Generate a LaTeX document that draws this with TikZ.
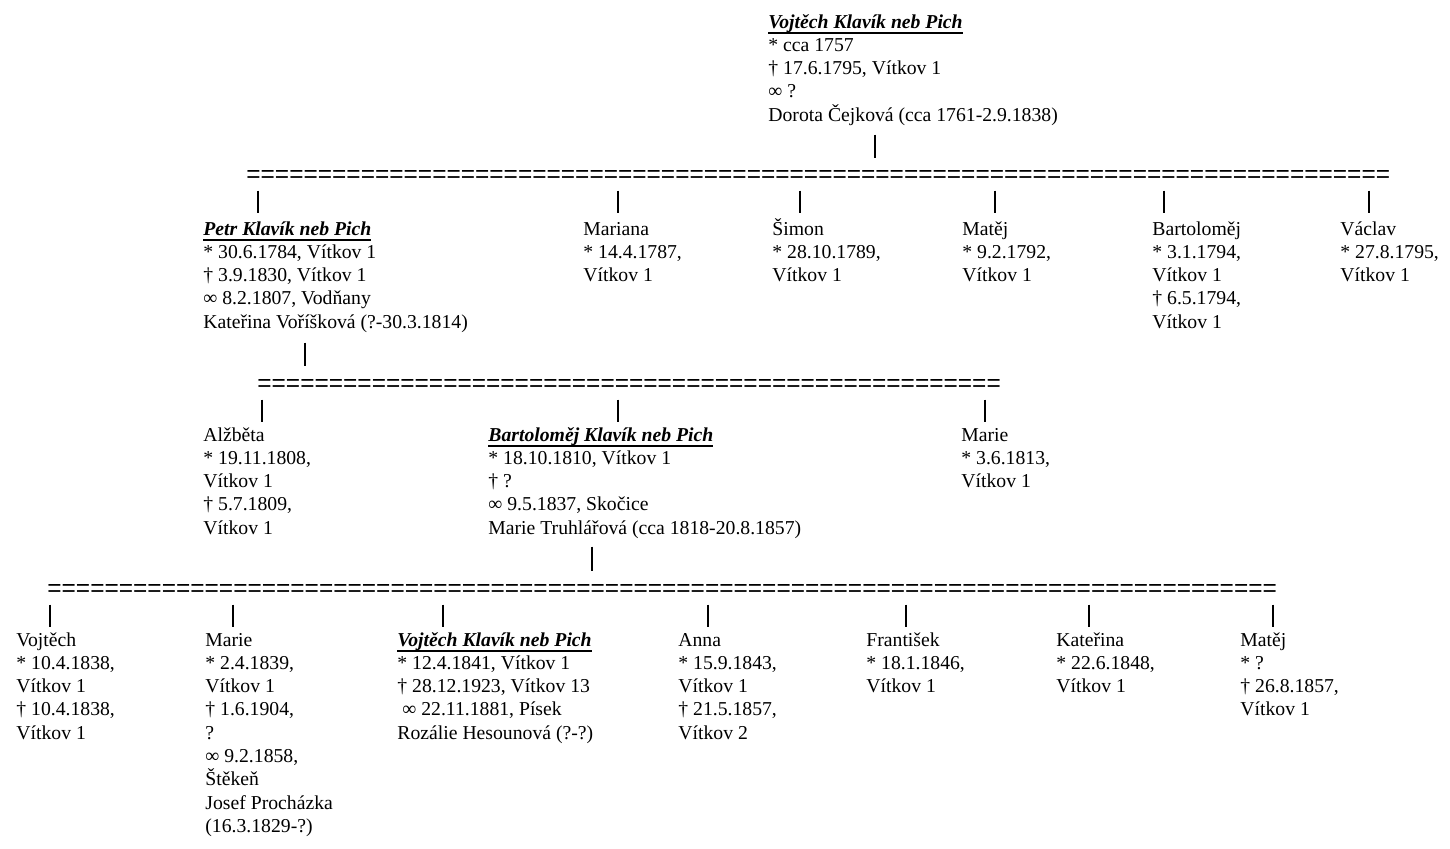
\documentclass[tikz,border=0pt]{standalone}
\usepackage{fontspec}
\setmainfont{Liberation Serif}
\newfontfamily\eqfamily{Liberation Sans}
\usetikzlibrary{calc}

\newsavebox\headbox
\newcommand\headname[1]{\sbox\headbox{\textbf{\textit{#1}}}%
  \rlap{\rule[-2.9pt]{\wd\headbox}{0.8pt}}\usebox\headbox}
\newcommand\eqrow[1]{\foreach \i in {1,...,#1}{=}}

\begin{document}
\begin{tikzpicture}[x=0.5pt,y=-0.5pt,
    person/.style={anchor=base west,align=left,inner sep=0pt,
      font=\fontsize{9.85}{11.65}\selectfont},
    sibs/.style={anchor=base west,inner sep=0pt,
      font=\eqfamily\fontsize{12.24}{14}\selectfont},
    bar/.style={line width=1pt}]
  \useasboundingbox (0,0) rectangle (1450,848);

  % generation 1 (nodes sit on the baseline of their last line)
  \node[person] (vojtech0) at (768,121.2) {\headname{Vojtěch Klavík neb Pich}\\
    * cca 1757\\ † 17.6.1795, Vítkov 1\\ ∞ ?\\ Dorota Čejková (cca 1761-2.9.1838)};
  \node[sibs] (row0) at (246,182.5) {\eqrow{80}};

  % generation 2
  \node[person] (petr) at (203,328.2) {\headname{Petr Klavík neb Pich}\\
    * 30.6.1784, Vítkov 1\\ † 3.9.1830, Vítkov 1\\ ∞ 8.2.1807, Vodňany\\
    Kateřina Voříšková (?-30.3.1814)};
  \node[person] (mariana) at (583,281.6) {Mariana\\ * 14.4.1787,\\ Vítkov 1};
  \node[person] (simon) at (772,281.6) {Šimon\\ * 28.10.1789,\\ Vítkov 1};
  \node[person] (matej) at (962,281.6) {Matěj\\ * 9.2.1792,\\ Vítkov 1};
  \node[person] (bartolomej) at (1152,328.2) {Bartoloměj\\ * 3.1.1794,\\ Vítkov 1\\
    † 6.5.1794,\\ Vítkov 1};
  \node[person] (vaclav) at (1340,281.6) {Václav\\ * 27.8.1795,\\ Vítkov 1};
  \node[sibs] (row1) at (257,391.5) {\eqrow{52}};

  % generation 3
  \node[person] (alzbeta) at (203,534.2) {Alžběta\\ * 19.11.1808,\\ Vítkov 1\\
    † 5.7.1809,\\ Vítkov 1};
  \node[person] (bartolomej2) at (488,534.2) {\headname{Bartoloměj Klavík neb Pich}\\
    * 18.10.1810, Vítkov 1\\ † ?\\ ∞ 9.5.1837, Skočice\\
    Marie Truhlářová (cca 1818-20.8.1857)};
  \node[person] (marie) at (961,487.6) {Marie\\ * 3.6.1813,\\ Vítkov 1};
  \node[sibs] (row2) at (47,596.5) {\eqrow{86}};

  % generation 4
  \node[person] (vojtech1) at (16,739.2) {Vojtěch\\ * 10.4.1838,\\ Vítkov 1\\
    † 10.4.1838,\\ Vítkov 1};
  \node[person] (marie2) at (205,832.4) {Marie\\ * 2.4.1839,\\ Vítkov 1\\
    † 1.6.1904,\\ ?\\ ∞ 9.2.1858,\\ Štěkeň\\ Josef Procházka\\ (16.3.1829-?)};
  \node[person] (vojtech2) at (397,739.2) {\headname{Vojtěch Klavík neb Pich}\\
    * 12.4.1841, Vítkov 1\\ † 28.12.1923, Vítkov 13\\ \ ∞ 22.11.1881, Písek\\
    Rozálie Hesounová (?-?)};
  \node[person] (anna) at (678,739.2) {Anna\\ * 15.9.1843,\\ Vítkov 1\\
    † 21.5.1857,\\ Vítkov 2};
  \node[person] (frantisek) at (866,692.6) {František\\ * 18.1.1846,\\ Vítkov 1};
  \node[person] (katerina) at (1056,692.6) {Kateřina\\ * 22.6.1848,\\ Vítkov 1};
  \node[person] (matej2) at (1240,715.9) {Matěj\\ * ?\\ † 26.8.1857,\\ Vítkov 1};

  % parents down to the sibling rows
  \draw[bar] ($(vojtech0.west |- row0.base)+(107,-48)$) -- ++(0,23);
  \draw[bar] ($(petr.west |- row1.base)+(102,-49)$) -- ++(0,23);
  \draw[bar] ($(bartolomej2.west |- row2.base)+(104,-50)$) -- ++(0,24);

  % sibling rows down to the children
  \draw[bar] ($(petr.west |- row0.base)+(55,8)$) -- ++(0,22);
  \draw[bar] ($(mariana.west |- row0.base)+(35,8)$) -- ++(0,22);
  \draw[bar] ($(simon.west |- row0.base)+(28,8)$) -- ++(0,22);
  \draw[bar] ($(matej.west |- row0.base)+(33,8)$) -- ++(0,22);
  \draw[bar] ($(bartolomej.west |- row0.base)+(12,8)$) -- ++(0,22);
  \draw[bar] ($(vaclav.west |- row0.base)+(29,8)$) -- ++(0,22);

  \draw[bar] ($(alzbeta.west |- row1.base)+(59,8)$) -- ++(0,22);
  \draw[bar] ($(bartolomej2.west |- row1.base)+(130,8)$) -- ++(0,22);
  \draw[bar] ($(marie.west |- row1.base)+(24,8)$) -- ++(0,22);

  \draw[bar] ($(vojtech1.west |- row2.base)+(34,8)$) -- ++(0,22);
  \draw[bar] ($(marie2.west |- row2.base)+(28,8)$) -- ++(0,22);
  \draw[bar] ($(vojtech2.west |- row2.base)+(46,8)$) -- ++(0,22);
  \draw[bar] ($(anna.west |- row2.base)+(30,8)$) -- ++(0,22);
  \draw[bar] ($(frantisek.west |- row2.base)+(40,8)$) -- ++(0,22);
  \draw[bar] ($(katerina.west |- row2.base)+(33,8)$) -- ++(0,22);
  \draw[bar] ($(matej2.west |- row2.base)+(33,8)$) -- ++(0,22);
\end{tikzpicture}
\end{document}
